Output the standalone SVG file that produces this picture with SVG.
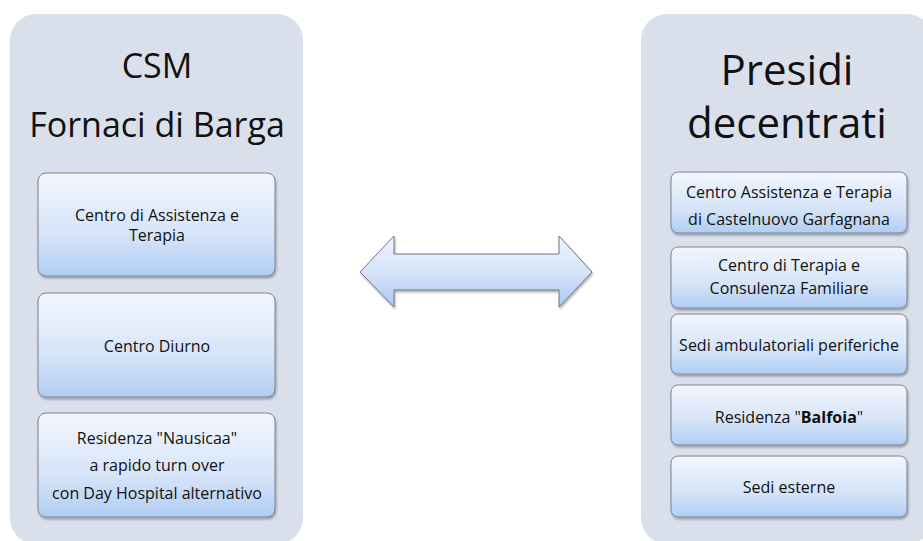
<svg xmlns="http://www.w3.org/2000/svg" width="923" height="541" viewBox="0 0 923 541">
<defs>
<linearGradient id="boxg" x1="0" y1="0" x2="0" y2="1">
<stop offset="0" stop-color="#f2f6fd"/>
<stop offset="0.6" stop-color="#d6e4f8"/>
<stop offset="1" stop-color="#b0cdf3"/>
</linearGradient>
<linearGradient id="arrg" x1="0" y1="0" x2="0" y2="1">
<stop offset="0" stop-color="#eef4fd"/>
<stop offset="0.55" stop-color="#d3e2f8"/>
<stop offset="1" stop-color="#a9c8f2"/>
</linearGradient>
<filter id="sh" x="-5%" y="-5%" width="115%" height="120%">
<feDropShadow dx="1" dy="2" stdDeviation="1.2" flood-color="#000" flood-opacity="0.3"/>
</filter>
</defs>
<style>
.panel{fill:#d9e0ec;}
.box{fill:url(#boxg);stroke:#7c8391;stroke-width:1;filter:url(#sh);}
.title{font-family:"Open Sans","Noto Sans",sans-serif;font-size:34px;fill:#111;text-anchor:middle;}
.big{font-size:42px;}
.t{font-family:"Open Sans","Noto Sans",sans-serif;font-size:16px;fill:#111;text-anchor:middle;}
.arrow{fill:url(#arrg);stroke:#6f7786;stroke-width:1;filter:url(#sh);}
</style>
<rect width="923" height="541" fill="#fff"/>
<g id="csm">
<rect class="panel" x="10" y="14" width="293" height="530" rx="26"/>
<text class="title" x="157" y="78">CSM</text>
<text class="title" x="157" y="137">Fornaci di Barga</text>
</g>
<g id="csm-cat">
<rect class="box" x="38" y="173" width="237" height="103" rx="8"/>
<text class="t" x="157" y="221">Centro di Assistenza e</text>
<text class="t" x="157" y="241">Terapia</text>
</g>
<g id="csm-diurno">
<rect class="box" x="38" y="293" width="237" height="104" rx="8"/>
<text class="t" x="157" y="352">Centro Diurno</text>
</g>
<g id="csm-nausicaa">
<rect class="box" x="38" y="413" width="237" height="104" rx="8"/>
<text class="t" x="157" y="444">Residenza "Nausicaa"</text>
<text class="t" x="157" y="471">a rapido turn over</text>
<text class="t" x="157" y="499">con Day Hospital alternativo</text>
</g>
<g id="presidi">
<rect class="panel" x="641" y="14" width="292" height="530" rx="26"/>
<text class="title big" x="787" y="85">Presidi</text>
<text class="title big" x="787" y="138">decentrati</text>
</g>
<g id="pres-cat">
<rect class="box" x="671" y="172" width="236" height="61" rx="7"/>
<text class="t" x="789" y="198">Centro Assistenza e Terapia</text>
<text class="t" x="789" y="225">di Castelnuovo Garfagnana</text>
</g>
<g id="pres-ctcf">
<rect class="box" x="671" y="247" width="236" height="61" rx="7"/>
<text class="t" x="789" y="271">Centro di Terapia e</text>
<text class="t" x="789" y="294">Consulenza Familiare</text>
</g>
<g id="pres-sedi-amb">
<rect class="box" x="671" y="314" width="236" height="60" rx="7"/>
<text class="t" x="789" y="351">Sedi ambulatoriali periferiche</text>
</g>
<g id="pres-balfoia">
<rect class="box" x="671" y="385" width="236" height="60" rx="7"/>
<text class="t" x="789" y="423">Residenza "<tspan font-weight="bold">Balfoia</tspan>"</text>
</g>
<g id="pres-sedi-est">
<rect class="box" x="671" y="456" width="236" height="61" rx="7"/>
<text class="t" x="789" y="493">Sedi esterne</text>
</g>
<g id="connectors">
<path class="arrow" d="M360,272 L394,236 L394,254 L559,254 L559,236 L592,272 L559,307 L559,290 L394,290 L394,307 Z"/>
</g>
</svg>
